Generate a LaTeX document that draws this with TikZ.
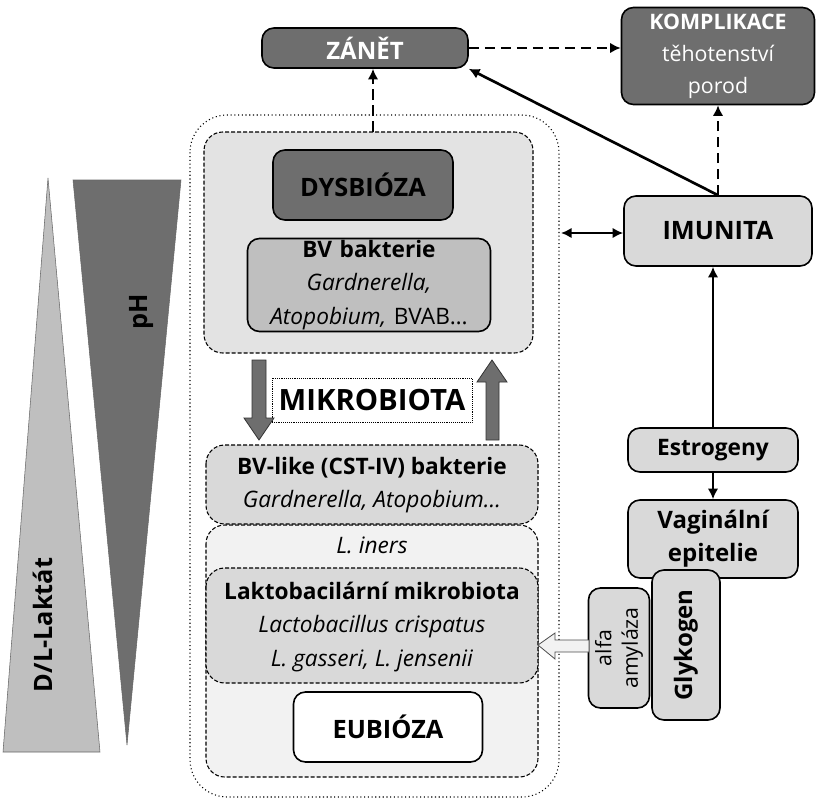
\documentclass[tikz,border=0pt]{standalone}
\usepackage{fontspec}
\setmainfont{Open Sans}
\usetikzlibrary{arrows.meta}
\definecolor{dk}{HTML}{6E6E6E}
\definecolor{md}{HTML}{BFBFBF}
\definecolor{lt}{HTML}{D9D9D9}
\definecolor{vl}{HTML}{F2F2F2}
\definecolor{up}{HTML}{E3E3E3}
\begin{document}
\begin{tikzpicture}[x=0.75pt,y=-0.75pt,
 box/.style={draw,rounded corners=9pt,line width=1.2pt,align=center,inner sep=0pt},
 dbox/.style={draw,rounded corners=14pt,dash pattern=on 3pt off 1.5pt,line width=0.8pt},
 con/.style={line width=2pt,-{Latex[length=8pt,width=8pt]}},
 dcon/.style={con,dash pattern=on 8pt off 4pt,line width=2.2pt},
 fat/.style={draw=black!80,fill=dk,line width=0.6pt},
 b1/.style={font=\bfseries\fontsize{19}{23}\selectfont},
 t1/.style={font=\fontsize{17}{25}\selectfont}]
\useasboundingbox (0,0) rectangle (818,800);
% triangles
\fill[md,draw=black!60] (3,752) -- (100,752) -- (48,178) -- cycle;
\fill[dk,draw=black!60] (73,180) -- (181,180) -- (127,745) -- cycle;
\node[rotate=90,b1] (lak) at (43,625) {D/L-Laktát};
\node[rotate=90,b1] (ph) at (141,312) {pH};
% outer dotted
\draw[dotted,line width=0.8pt,rounded corners=28pt] (190,115) rectangle (559,797);
% upper dashed region
\draw[dbox,fill=up] (204,132) rectangle (533,353);
\node[box,fill=dk,minimum width=180*0.75pt,minimum height=70*0.75pt,b1] (dys) at (363,185) {DYSBIÓZA};
\node[box,fill=md,text width=243*0.75pt,minimum height=93*0.75pt,t1] (bv) at (369,285) {\textbf{BV bakterie}\\ \textit{Gardnerella,}\\ \textit{Atopobium,} BVAB…};
% lower region
\draw[dbox,fill=vl] (206,525) rectangle (538,777);
\draw[dbox,fill=lt] (206,445) rectangle (538,524);
\node[align=center,t1] (bvl) at (372,485) {\textbf{BV-like (CST-IV) bakterie}\\ \textit{Gardnerella, Atopobium…}};
\node[font=\itshape\fontsize{17}{21}\selectfont] (iners) at (372,545) {L. iners};
\draw[dbox,fill=lt] (206,568) rectangle (538,683);
\node[align=center,t1] (lakto) at (372,627) {\textbf{Laktobacilární mikrobiota}\\ \textit{Lactobacillus crispatus}\\ \textit{L. gasseri, L. jensenii}};
\node[box,fill=white,minimum width=189*0.75pt,minimum height=70*0.75pt,b1] (eub) at (388,727) {EUBIÓZA};
% mikrobiota
\node[draw,densely dotted,fill=white,minimum width=200*0.75pt,minimum height=44*0.75pt,font=\bfseries\fontsize{22}{26}\selectfont] (mik) at (372,400) {MIKROBIOTA};
\draw[fat] (252,360) -- (266,360) -- (266,418) -- (274,418) -- (259,440) -- (244,418) -- (252,418) -- cycle;
\draw[fat] (486,440) -- (499,440) -- (499,382) -- (507,382) -- (492,360) -- (477,382) -- (486,382) -- cycle;
% right side
\node[box,fill=dk,text=white,minimum width=206*0.75pt,minimum height=40*0.75pt,font=\bfseries\fontsize{18}{22}\selectfont] (zan) at (365,48) {ZÁNĚT};
\node[box,fill=dk,text=white,minimum width=193*0.75pt,minimum height=97*0.75pt,font=\fontsize{16}{24}\selectfont] (kom) at (718,56) {\textbf{KOMPLIKACE}\\ těhotenství\\ porod};
\node[box,fill=lt,minimum width=188*0.75pt,minimum height=70*0.75pt,b1] (imu) at (718,231) {IMUNITA};
\node[box,fill=lt,minimum width=170*0.75pt,minimum height=44*0.75pt,font=\bfseries\fontsize{17}{21}\selectfont] (est) at (713,450) {Estrogeny};
\node[box,fill=lt,minimum width=170*0.75pt,minimum height=78*0.75pt,font=\bfseries\fontsize{18}{25}\selectfont] (vag) at (713,539) {Vaginální\\ epitelie};
\node[box,fill=lt,rotate=90,minimum width=150*0.75pt,minimum height=68*0.75pt,font=\bfseries\fontsize{18}{22}\selectfont] (gly) at (686,645) {Glykogen};
\node[box,fill=lt,rotate=90,minimum width=120*0.75pt,minimum height=61*0.75pt,font=\fontsize{16}{20}\selectfont] (alf) at (619,648) {alfa\\ amyláza};
\coordinate (lakR) at (538,645);
\draw[draw=black!70,fill=vl,line width=0.6pt] (589,640) -- (555,640) -- (555,633) -- (lakR) -- (555,659) -- (555,652) -- (589,652) -- cycle;
% connectors
\draw[dcon] (373,132) -- (zan.south -| 373,0);
\draw[dcon] (zan.east) -- (kom.west |- zan.east);
\draw[con] (imu.north) -- (zan.south east);
\draw[dcon] (imu.north) -- (kom.south);
\coordinate (outR) at (561,233);
\draw[line width=2pt,{Latex[length=8pt,width=8pt]}-{Latex[length=8pt,width=8pt]}] (outR) -- (imu.west |- outR);
\draw[con] (est.north) -- (imu.south -| est.north);
\draw[con] (est.south) -- (vag.north);
\end{tikzpicture}
\end{document}
